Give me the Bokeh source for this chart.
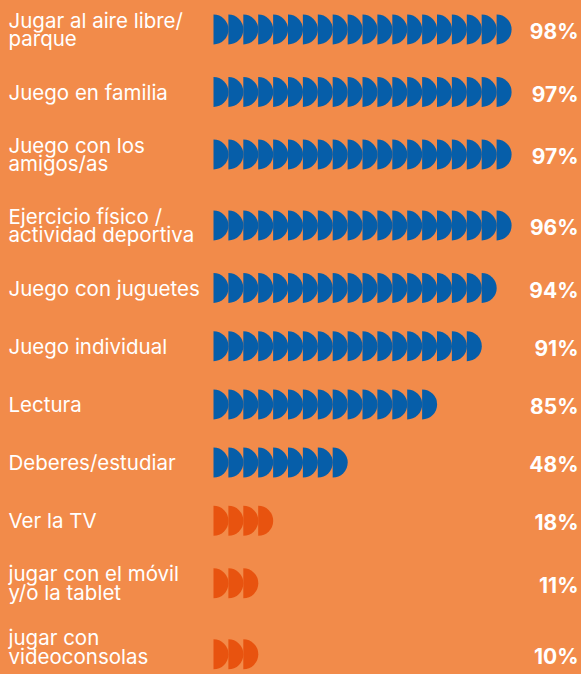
import math
from bokeh.plotting import figure
from bokeh.models import Range1d, ColumnDataSource
from bokeh.embed import file_html
from bokeh.resources import INLINE
from bokeh.core.properties import value

# ---- data ----
labels = [
    "Jugar al aire libre/\nparque",
    "Juego en familia",
    "Juego con los\namigos/as",
    "Ejercicio físico /\nactividad deportiva",
    "Juego con juguetes",
    "Juego individual",
    "Lectura",
    "Deberes/estudiar",
    "Ver la TV",
    "jugar con el móvil\ny/o la tablet",
    "jugar con\nvideoconsolas",
]
percent = [98, 97, 97, 96, 94, 91, 85, 48, 18, 11, 10]
icons = [20, 20, 20, 20, 19, 18, 15, 9, 4, 3, 3]
screen = [False, False, False, False, False, False, False, False, True, True, True]

# ---- styling / layout ----
BG = "#F28B4A"
BLUE = "#065EA9"
RED = "#E8530F"
W, H = 581, 674
TOP = H - 29         # centre of the first row (y grows upwards)
GAP = {0: 58.2, 1: 62.5, 2: 71.0}   # row gap by number of two-line labels in the pair
X0 = 213             # flat edge of the first half-disc
STEP = 14.9
R = 15
FS = 20.5
LH = 0.75

nlines = [lab.count("\n") + 1 for lab in labels]
ys = [TOP]
for i in range(1, len(labels)):
    n2 = int(nlines[i - 1] > 1) + int(nlines[i] > 1)
    ys.append(ys[-1] - GAP[n2])

# keep every label block fully inside the canvas
label_y = [max(y, n * FS * LH / 2 + 12) for y, n in zip(ys, nlines)]

wx, wy, wc = [], [], []
for i, n in enumerate(icons):
    for k in range(n):
        wx.append(X0 + k * STEP)
        wy.append(ys[i])
        wc.append(RED if screen[i] else BLUE)

p = figure(width=W, height=H, x_range=Range1d(0, W), y_range=Range1d(0, H),
           output_backend="svg", toolbar_location=None, min_border=0,
           x_axis_type=None, y_axis_type=None)
p.grid.visible = False
p.outline_line_color = None
p.background_fill_color = BG
p.border_fill_color = BG

src = ColumnDataSource(dict(x=wx, y=wy, c=wc))
p.wedge(x="x", y="y", radius=R, start_angle=-math.pi / 2, end_angle=math.pi / 2,
        direction="anticlock", fill_color="c", line_color=None, source=src)

p.text(x=[8] * len(labels), y=label_y, text=labels, text_font=value("Inter"),
       text_font_size=f"{FS}px", text_color="white", text_align="left",
       text_baseline="middle", text_line_height=LH)

p.text(x=[578] * len(labels), y=[y - 2 for y in ys], text=[f"{v}%" for v in percent],
       text_font=value("Inter"), text_font_size="21px", text_font_style="bold",
       text_color="white", text_align="right", text_baseline="middle")

html = file_html(p, INLINE)
html = html.replace("<head>", "<head><style>html,body{background:%s;}</style>" % BG, 1)
open("out.html", "w").write(html)
